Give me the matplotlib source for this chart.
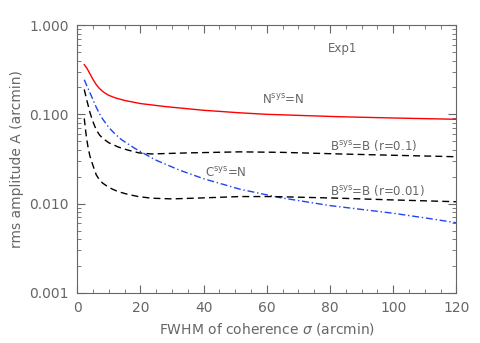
import numpy as np
import matplotlib
matplotlib.use("Agg")
import matplotlib.pyplot as plt
from matplotlib.ticker import MultipleLocator, LogLocator, FixedLocator

# values
x_n = [2.2, 3, 4, 5, 6, 7, 8, 9, 10, 12, 15, 20, 28, 40, 51.5, 60, 83, 100, 120]
n_sys = [0.36, 0.33, 0.285, 0.245, 0.215, 0.195, 0.181, 0.171, 0.163, 0.153, 0.143, 0.132, 0.122,
         0.111, 0.104, 0.100, 0.094, 0.091, 0.088]

x_c = [2.2, 3, 4, 5, 6, 7, 8, 10, 12, 14, 18, 24.6, 32.5, 40, 51.5, 64, 80, 100, 111.5, 120]
c_sys = [0.244, 0.21, 0.175, 0.145, 0.12, 0.102, 0.089, 0.071, 0.06, 0.052, 0.042, 0.031, 0.0236,
         0.019, 0.0145, 0.0117, 0.0095, 0.0078, 0.0068, 0.0061]

x_b1 = [2.2, 3, 4, 5, 6, 7, 8, 10, 13, 16, 19.5, 23.5, 35, 51.5, 65, 83, 100, 120]
b_sys_01 = [0.19, 0.145, 0.105, 0.082, 0.067, 0.059, 0.054, 0.048, 0.043, 0.0398, 0.037, 0.036,
            0.037, 0.038, 0.0375, 0.036, 0.0348, 0.0335]

x_b2 = [2.2, 2.9, 3.4, 4, 5, 6, 7, 8, 9.3, 11, 13, 16, 19.3, 23.5, 30, 40, 51.5, 62, 83, 100, 120]
b_sys_001 = [0.09, 0.055, 0.043, 0.034, 0.0265, 0.021, 0.0185, 0.017, 0.0158, 0.0146, 0.0136,
             0.0127, 0.012, 0.0115, 0.0113, 0.0116, 0.012, 0.012, 0.0115, 0.011, 0.0105]

grey = '#666666'

fig = plt.figure(figsize=(4.8, 3.43), dpi=100)
ax = fig.add_axes([0.161, 0.146, 0.79, 0.781])

ax.plot(x_n, n_sys, color='red', lw=1.0)
ax.plot(x_c, c_sys, color='#2244ee', lw=1.0, dashes=(5, 2, 1, 2))
ax.plot(x_b1, b_sys_01, color='black', lw=1.0, dashes=(5, 3))
ax.plot(x_b2, b_sys_001, color='black', lw=1.0, dashes=(5, 3))

ax.set_yscale('log')
ax.set_xlim(0, 120)
ax.set_ylim(0.001, 1.0)

ax.xaxis.set_major_locator(MultipleLocator(20))
ax.xaxis.set_minor_locator(MultipleLocator(5))
ax.yaxis.set_major_locator(FixedLocator([0.001, 0.01, 0.1, 1.0]))
ax.yaxis.set_minor_locator(LogLocator(base=10, subs=np.arange(2, 10)))
ax.set_yticklabels(['0.001', '0.010', '0.100', '1.000'])

ax.tick_params(which='both', direction='in', top=True, right=True, colors=grey, labelsize=10)
ax.tick_params(which='major', length=6, pad=6)
ax.tick_params(which='minor', length=3)
for s in ax.spines.values():
    s.set_color(grey)
    s.set_linewidth(0.8)

ax.set_xlabel('FWHM of coherence $\\sigma$ (arcmin)', color=grey, fontsize=10)
ax.set_ylabel('rms amplitude A (arcmin)', color=grey, fontsize=10)

tkw = dict(color=grey, fontsize=8.5)
ax.text(84, 0.55, 'Exp1', ha='center', va='center', **tkw)
ax.text(65, 0.145, 'N$^{\\rm sys}$=N', ha='center', va='center', **tkw)
ax.text(80, 0.045, 'B$^{\\rm sys}$=B (r=0.1)', ha='left', va='center', **tkw)
ax.text(80, 0.0142, 'B$^{\\rm sys}$=B (r=0.01)', ha='left', va='center', **tkw)
ax.text(40.4, 0.022, 'C$^{\\rm sys}$=N', ha='left', va='center', **tkw)

fig.savefig('out.png', dpi=100)
